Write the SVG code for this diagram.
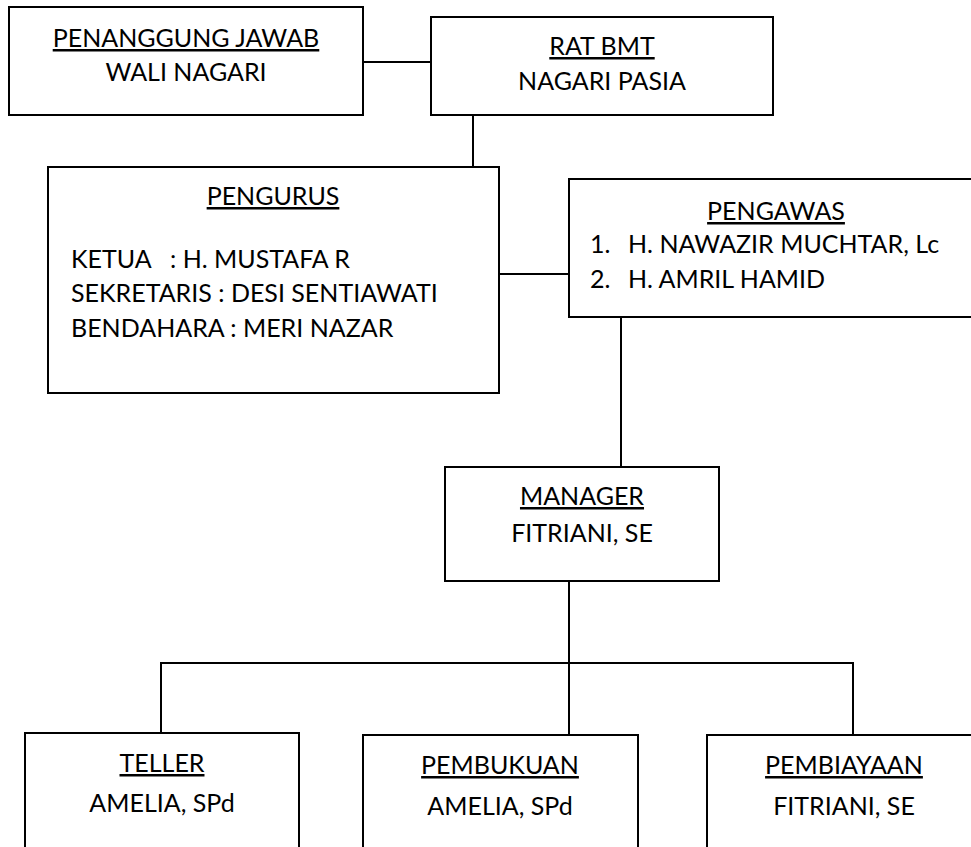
<svg xmlns="http://www.w3.org/2000/svg" width="971" height="847" viewBox="0 0 971 847">
<style>
.box{fill:#fff;stroke:#000;stroke-width:2}
.ln{fill:none;stroke:#000;stroke-width:2}
text{font-family:Lato,"Carlito","Open Sans",sans-serif;font-size:25px;fill:#000}
.c{text-anchor:middle}
.u{text-decoration:underline}
</style>
<rect width="971" height="847" fill="#fff"/>
<g id="connectors">
<path class="ln" d="M363 62H431"/>
<path class="ln" d="M473 105V167"/>
<path class="ln" d="M499 274H569"/>
<path class="ln" d="M621 317V467"/>
<path class="ln" d="M569 581V735"/>
<path class="ln" d="M161 733V663H853V735"/>
</g>
<g id="penanggung-jawab">
<rect class="box" x="9" y="7" width="354" height="108"/>
<text class="c u" x="186" y="47">PENANGGUNG JAWAB</text>
<text class="c" x="186" y="81">WALI NAGARI</text>
</g>
<g id="rat-bmt">
<rect class="box" x="431" y="17" width="342" height="98"/>
<text class="c u" x="602" y="55">RAT BMT</text>
<text class="c" x="602" y="90">NAGARI PASIA</text>
</g>
<g id="pengurus">
<rect class="box" x="48" y="167" width="451" height="226"/>
<text class="c u" x="273" y="205">PENGURUS</text>
<text x="71" y="268" xml:space="preserve">KETUA   : H. MUSTAFA R</text>
<text x="71" y="302">SEKRETARIS : DESI SENTIAWATI</text>
<text x="71" y="337">BENDAHARA : MERI NAZAR</text>
</g>
<g id="pengawas">
<path class="box" d="M972 179H569V317H972"/>
<text class="c u" x="776" y="220">PENGAWAS</text>
<text x="590" y="253">1.</text>
<text x="628" y="253">H. NAWAZIR MUCHTAR, Lc</text>
<text x="590" y="288">2.</text>
<text x="628" y="288">H. AMRIL HAMID</text>
</g>
<g id="manager">
<rect class="box" x="445" y="467" width="274" height="114"/>
<text class="c u" x="582" y="505">MANAGER</text>
<text class="c" x="582" y="542">FITRIANI, SE</text>
</g>
<g id="teller">
<path class="box" d="M25 850V733H299V850"/>
<text class="c u" x="162" y="772">TELLER</text>
<text class="c" x="162" y="812">AMELIA, SPd</text>
</g>
<g id="pembukuan">
<path class="box" d="M363 850V735H638V850"/>
<text class="c u" x="500" y="774">PEMBUKUAN</text>
<text class="c" x="500" y="815">AMELIA, SPd</text>
</g>
<g id="pembiayaan">
<path class="box" d="M707 850V735H972"/>
<text class="c u" x="844" y="774">PEMBIAYAAN</text>
<text class="c" x="844" y="815">FITRIANI, SE</text>
</g>
</svg>
